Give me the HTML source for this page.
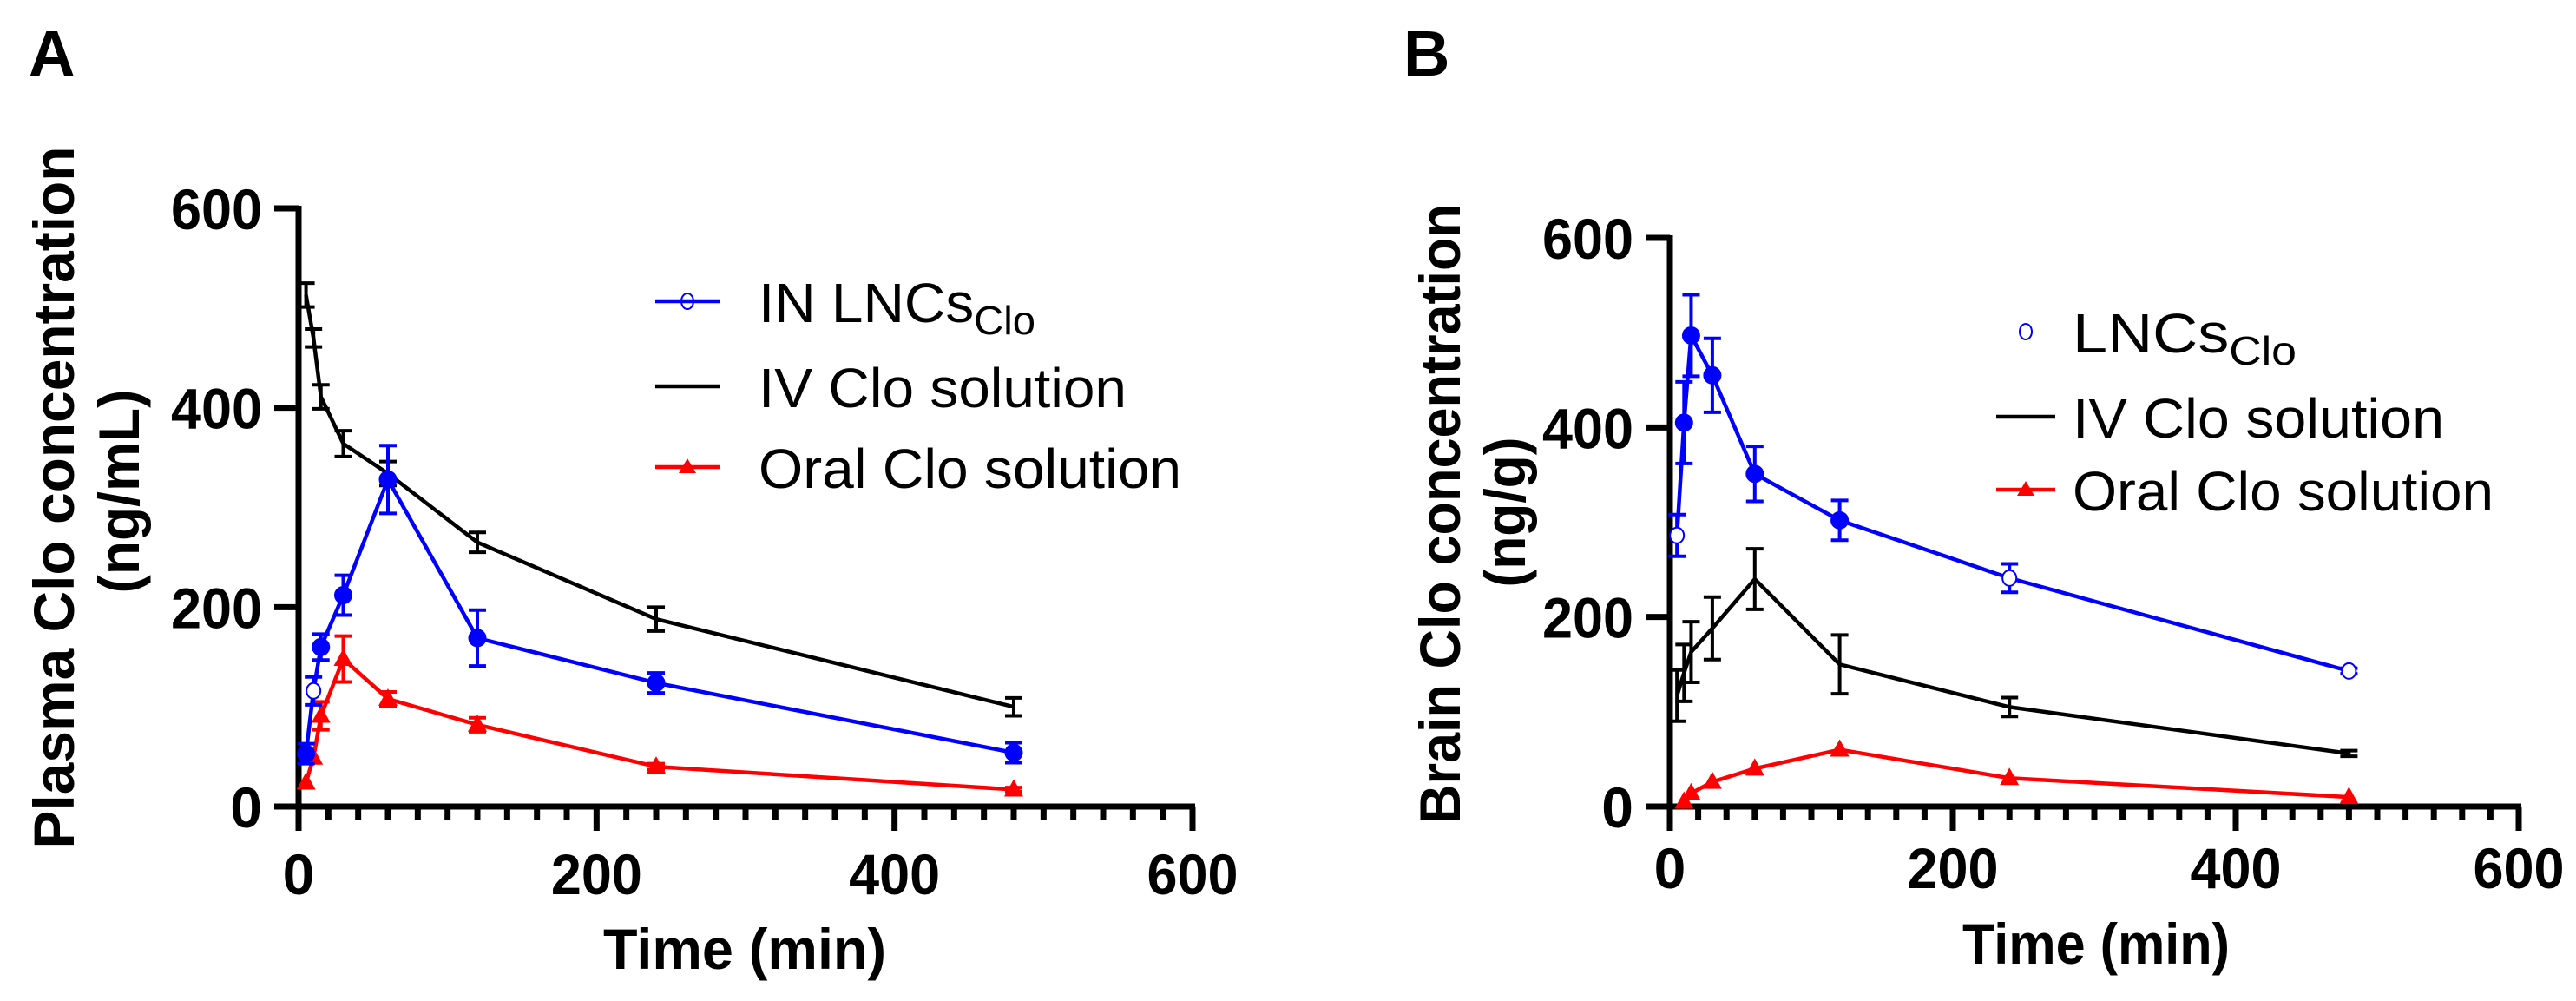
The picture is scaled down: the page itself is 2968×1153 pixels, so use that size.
<!DOCTYPE html>
<html><head><meta charset="utf-8"><title>Clo concentration</title>
<style>
html,body{margin:0;padding:0;background:#fff;}
svg{display:block;}
text{font-family:"Liberation Sans",Arial,sans-serif;}
</style></head>
<body>
<svg id="fig" xmlns="http://www.w3.org/2000/svg" width="2968" height="1153" viewBox="0 0 2968 1153"></svg>
<script>
// ---------- Data (Panel A: plasma) ----------
const timesA = [5, 10, 15, 30, 60, 120, 240, 480];
const inValuesA = [53, 116, 160, 212, 328, 169, 124, 54];
const inErrA = [10, 14, 13, 20, 34, 28, 10, 10];
const inOpenA = [false, true, false, false, false, false, false, false];
const ivValuesA = [513, 470, 411, 364, 334, 265, 188, 100];
const ivErrA = [12, 9, 12, 13, 12, 10, 12, 9];
const oralValuesA = [24, 49, 91, 148, 108, 82, 40, 17];
const oralErrA = [0, 0, 14, 23, 7, 7, 3, 2];
// ---------- Data (Panel B: brain) ----------
const timesB = [5, 10, 15, 30, 60, 120, 240, 480];
const lncValuesB = [286, 405, 497, 455, 351, 302, 241, 143];
const lncErrB = [22, 43, 43, 39, 29, 21, 15, 3];
const lncOpenB = [true, false, false, false, false, false, true, true];
const ivValuesB = [117, 141, 163, 188, 240, 150, 105, 56];
const ivErrB = [27, 30, 32, 33, 32, 31, 10, 3];
const oralTimesB = [10, 15, 30, 60, 120, 240, 480];
const oralValuesB = [5, 14, 26, 40, 60, 30, 10];
// ---------- Axis ticks ----------
const xTickLabels = [0, 200, 400, 600];
const yTickLabels = [0, 200, 400, 600];

const NS = "http://www.w3.org/2000/svg";
const svg = document.getElementById("fig");
function mk(tag, attrs, parent) {
  const e = document.createElementNS(NS, tag);
  for (const k in attrs) e.setAttribute(k, attrs[k]);
  (parent || svg).appendChild(e);
  return e;
}

function panel(cfg) {
  const g = mk("g", {});
  
  
  const sx = t => cfg.x0 + (t / 600) * (cfg.x1 - cfg.x0);
  const sy = v => cfg.y0 - (v / 600) * (cfg.y0 - cfg.y1);

  const ax = mk("g", {}, g);
  
  
  mk("line", {x1: cfg.x0, y1: cfg.y1 - 3, x2: cfg.x0, y2: cfg.y0 + 28, stroke: "#000", "stroke-width": 7}, ax);
  mk("line", {x1: cfg.x0 - 28, y1: cfg.y0, x2: cfg.x1 + 3, y2: cfg.y0, stroke: "#000", "stroke-width": 7}, ax);
  for (let t = 20; t <= 600; t += 20) {
    const major = t % 200 === 0;
    mk("line", {x1: sx(t), y1: cfg.y0, x2: sx(t), y2: cfg.y0 + (major ? 28 : 16), stroke: "#000", "stroke-width": 7}, ax);
  }
  yTickLabels.forEach(v => {
    if (v > 0) mk("line", {x1: cfg.x0 - 28, y1: sy(v), x2: cfg.x0, y2: sy(v), stroke: "#000", "stroke-width": 7}, ax);
    const tl = mk("text", {x: cfg.x0 - 42, y: sy(v) + 24, "text-anchor": "end", "font-size": 66, "font-weight": "bold"}, ax);
    
    
    tl.textContent = v;
    if (String(v).length === 3) { tl.setAttribute("textLength", 105); tl.setAttribute("lengthAdjust", "spacingAndGlyphs"); }
  });
  xTickLabels.forEach(t => {
    const tl = mk("text", {x: sx(t), y: cfg.xLabY, "text-anchor": "middle", "font-size": 66, "font-weight": "bold"}, ax);
    
    
    tl.textContent = t;
    if (String(t).length === 3) { tl.setAttribute("textLength", 105); tl.setAttribute("lengthAdjust", "spacingAndGlyphs"); }
  });

  cfg.series.forEach(s => {
    const sg = mk("g", {}, g);
    
    
    const pts = s.t.map((t, i) => sx(t) + "," + sy(s.v[i])).join(" ");
    mk("polyline", {points: pts, fill: "none", stroke: s.color, "stroke-width": 4.5}, sg);
    s.t.forEach((t, i) => {
      const x = sx(t), y = sy(s.v[i]);
      const e = s.e ? s.e[i] : 0;
      if (e > 0) {
        const eb = mk("g", {}, sg);
        
        
        mk("line", {x1: x, y1: sy(s.v[i] + e), x2: x, y2: sy(s.v[i] - e), stroke: s.color, "stroke-width": 4}, eb);
        mk("line", {x1: x - 10, y1: sy(s.v[i] + e), x2: x + 10, y2: sy(s.v[i] + e), stroke: s.color, "stroke-width": 4}, eb);
        mk("line", {x1: x - 10, y1: sy(s.v[i] - e), x2: x + 10, y2: sy(s.v[i] - e), stroke: s.color, "stroke-width": 4}, eb);
      }
      let m = null;
      if (s.marker === "circle") {
        const open = s.open && s.open[i];
        m = mk("ellipse", {cx: x, cy: y, rx: open ? 8 : 10, ry: open ? 9 : 10, fill: open ? "#fff" : s.color, stroke: s.color, "stroke-width": open ? 2 : 1}, sg);
      } else if (s.marker === "triangle") {
        m = mk("polygon", {points: `${x},${y - 12} ${x - 11},${y + 8} ${x + 11},${y + 8}`, fill: s.color}, sg);
      }
      if (m) {
        
        
      }
    });
  });

  const yt1 = mk("text", {x: 0, y: 0, transform: `translate(${cfg.yt1x},${cfg.yt1c}) rotate(-90)`, "text-anchor": "middle", "font-size": 66, "font-weight": "bold", textLength: cfg.yt1len, lengthAdjust: "spacingAndGlyphs"}, g);
  
  
  yt1.textContent = cfg.yt1;
  const yt2 = mk("text", {x: 0, y: 0, transform: `translate(${cfg.yt2x},${cfg.yt2c}) rotate(-90)`, "text-anchor": "middle", "font-size": 66, "font-weight": "bold", textLength: cfg.yt2len, lengthAdjust: "spacingAndGlyphs"}, g);
  
  
  yt2.textContent = cfg.yt2;
  const xt = mk("text", {x: cfg.xtx, y: cfg.xty, "font-size": 66, "font-weight": "bold", textLength: cfg.xtlen, lengthAdjust: "spacingAndGlyphs"}, g);
  
  
  xt.textContent = "Time (min)";
  const pl = mk("text", {x: cfg.letterX, y: 87, "font-size": 74, "font-weight": "bold"}, g);
  
  
  pl.textContent = cfg.letter;

  const lg = mk("g", {}, g);
  
  
  cfg.legend.forEach((L, i) => {
    const y = cfg.legY[i];
    const le = mk("g", {}, lg);
    
    
    if (L.line) mk("line", {x1: cfg.legL1, y1: y, x2: cfg.legL2, y2: y, stroke: L.color, "stroke-width": 4.5}, le);
    const cx = (cfg.legL1 + cfg.legL2) / 2;
    if (L.marker === "circle") mk("ellipse", {cx: cx, cy: y, rx: 7, ry: 9, fill: "none", stroke: L.color, "stroke-width": 2}, le);
    if (L.marker === "triangle") mk("polygon", {points: `${cx},${y - 10} ${cx - 10},${y + 7} ${cx + 10},${y + 7}`, fill: L.color}, le);
    const tx = mk("text", {x: cfg.legTX, y: y + 24, "font-size": 64, textLength: L.len, lengthAdjust: "spacingAndGlyphs"}, le);
    tx.textContent = L.text;
    if (L.sub) {
      const sub = mk("tspan", {"font-size": 46, dy: 14}, tx);
      sub.textContent = L.sub;
    }
  });
}

panel({
  name: "panel-a-plasma", letter: "A", letterX: 33,
  x0: 344, x1: 1374, y0: 929, y1: 240, xLabY: 1030,
  yt1: "Plasma Clo concentration", yt1x: 85, yt1c: 573, yt1len: 809,
  yt2: "(ng/mL)", yt2x: 160, yt2c: 566, yt2len: 235,
  xtx: 695, xty: 1116, xtlen: 326,
  series: [
    {name: "series-iv-clo-solution", t: timesA, v: ivValuesA, e: ivErrA, color: "#000", marker: "none"},
    {name: "series-oral-clo-solution", t: timesA, v: oralValuesA, e: oralErrA, color: "#ff0000", marker: "triangle"},
    {name: "series-in-lncs-clo", t: timesA, v: inValuesA, e: inErrA, open: inOpenA, color: "#0000ff", marker: "circle"}
  ],
  legY: [347, 445, 538], legL1: 755, legL2: 829, legTX: 874,
  legend: [
    {text: "IN LNCs", sub: "Clo", color: "#0000ff", line: true, marker: "circle", len: 319},
    {text: "IV Clo solution", color: "#000", line: true, marker: "none", len: 424},
    {text: "Oral Clo solution", color: "#ff0000", line: true, marker: "triangle", len: 487}
  ]
});

panel({
  name: "panel-b-brain", letter: "B", letterX: 1617,
  x0: 1924, x1: 2902, y0: 929, y1: 274, xLabY: 1023,
  yt1: "Brain Clo concentration", yt1x: 1682, yt1c: 592, yt1len: 714,
  yt2: "(ng/g)", yt2x: 1757, yt2c: 590, yt2len: 173,
  xtx: 2261, xty: 1110, xtlen: 308,
  series: [
    {name: "series-iv-clo-solution", t: timesB, v: ivValuesB, e: ivErrB, color: "#000", marker: "none"},
    {name: "series-oral-clo-solution", t: oralTimesB, v: oralValuesB, e: null, color: "#ff0000", marker: "triangle"},
    {name: "series-lncs-clo", t: timesB, v: lncValuesB, e: lncErrB, open: lncOpenB, color: "#0000ff", marker: "circle"}
  ],
  legY: [382, 480, 564], legL1: 2300, legL2: 2368, legTX: 2388,
  legend: [
    {text: "LNCs", sub: "Clo", color: "#0000ff", line: false, marker: "circle", len: 258},
    {text: "IV Clo solution", color: "#000", line: true, marker: "none", len: 428},
    {text: "Oral Clo solution", color: "#ff0000", line: true, marker: "triangle", len: 485}
  ]
});
</script>
</body></html>
